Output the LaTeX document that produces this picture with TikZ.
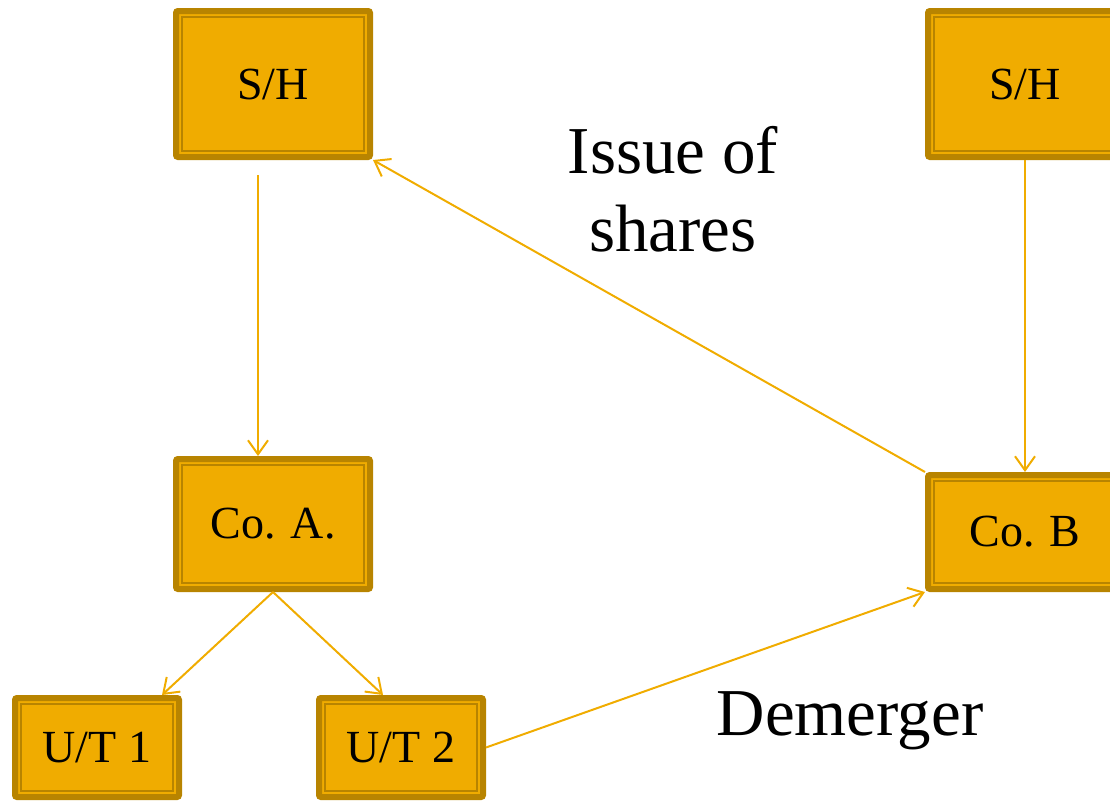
\documentclass[tikz,border=0pt]{standalone}
\usepackage{fontspec}
\setmainfont{Liberation Serif}
\usetikzlibrary{arrows.meta}
\definecolor{boxfill}{RGB}{240,172,0}
\definecolor{boxrim}{RGB}{184,132,0}
\tikzset{
  entity/.style={
    draw=boxrim, fill=boxfill, line width=6pt, rounded corners=2pt,
    inner sep=0pt, text=black, font=\fontsize{46}{50}\selectfont,
    path picture={
      \draw[boxrim, line width=2pt, sharp corners]
        ([shift={(6pt,6pt)}]path picture bounding box.south west) rectangle
        ([shift={(-6pt,-6pt)}]path picture bounding box.north east);
    }
  },
  link/.style={draw=boxfill, line width=2pt,
    -{Straight Barb[length=14pt,width=20pt,line width=2pt]}},
  caption/.style={font=\fontsize{67}{78}\selectfont, align=center, inner sep=0pt}
}
\begin{document}
\begin{tikzpicture}[x=1pt, y=-1pt]
  \useasboundingbox (0,0) rectangle (1110,801);

  % shareholders, companies and undertakings
  \node[entity, minimum width=194pt, minimum height=146pt] (sh1) at (273,84) {\raisebox{-3pt}{S/H}};
  \node[entity, minimum width=194pt, minimum height=146pt] (sh2) at (1025,84) {\raisebox{-3pt}{S/H}};
  \node[entity, minimum width=194pt, minimum height=130pt] (coa) at (273,524) {Co. A.};
  \node[entity, minimum width=194pt, minimum height=114pt] (cob) at (1025,532) {Co. B};
  \node[entity, minimum width=164pt, minimum height=99pt] (ut1) at (97,747.5) {U/T 1};
  \node[entity, minimum width=164pt, minimum height=99pt] (ut2) at (401,747.5) {U/T 2};

  % connectors
  \draw[link] ([shift={(-15pt,-15pt)}]sh1.south) -- ([xshift=-15pt]coa.north);
  \draw[link] (coa.south) -- ([xshift=65pt]ut1.north);
  \draw[link] (coa.south) -- ([xshift=-18pt]ut2.north);
  \draw[link] (cob.north west) -- (sh1.south east);
  \draw[link] (sh2.south) -- (sh2.south |- cob.north);
  \draw[link] (ut2.east) -- (cob.south west);

  % labels
  \node[caption] (issue) at (673,189) {Issue of\\shares};
  \node[caption, anchor=base] (demerger) at (850,735) {Demerger};
\end{tikzpicture}
\end{document}
